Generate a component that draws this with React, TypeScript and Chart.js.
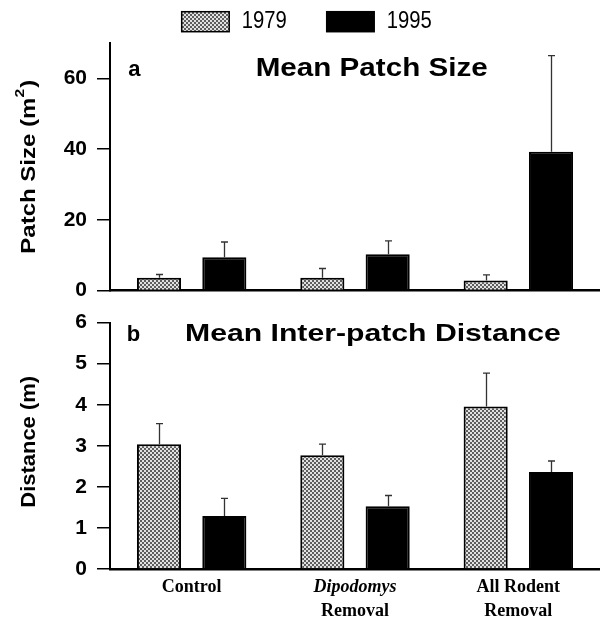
import React, { useEffect, useRef } from "react";
import { Chart, registerables } from "chart.js";

Chart.register(...registerables);

// ---------- data ----------
const categories = ["Control", "Dipodomys Removal", "All Rodent Removal"];
const categoryLines = [["Control"], ["Dipodomys", "Removal"], ["All Rodent", "Removal"]];
const categoryItalic = [[false], [true, false], [false, false]];
const seriesNames = ["1979", "1995"];

const patchSize1979 = [3.6, 3.6, 2.8];
const patchSize1979Err = [0.9, 2.6, 1.6];
const patchSize1995 = [9.4, 10.2, 39.2];
const patchSize1995Err = [4.3, 3.8, 27.2];

const distance1979 = [3.04, 2.77, 3.96];
const distance1979Err = [0.5, 0.27, 0.81];
const distance1995 = [1.29, 1.53, 2.36];
const distance1995Err = [0.43, 0.26, 0.27];

const patchAxis = { min: 0, max: 70, step: 20 };
const distanceAxis = { min: 0, max: 6, step: 1 };

const panelLetters = ["a", "b"];
const panelTitles = ["Mean Patch Size", "Mean Inter-patch Distance"];
const yTitles = [
  [{ text: "Patch Size (m" }, { text: "2", sup: true }, { text: ")" }],
  [{ text: "Distance (m)" }],
];

const SANS = "'Liberation Sans', Arial, Helvetica, sans-serif";
const SERIF = "'Liberation Serif', 'Times New Roman', serif";

function makePattern(): CanvasPattern | string {
  const c = document.createElement("canvas");
  c.width = 4;
  c.height = 4;
  const g = c.getContext("2d");
  if (!g) return "#999";
  g.fillStyle = "#e2e2e2";
  g.fillRect(0, 0, 4, 4);
  g.fillStyle = "#5e5e5e";
  g.fillRect(0, 0, 2, 2);
  g.fillRect(2, 2, 2, 2);
  const p = g.createPattern(c, "repeat");
  return p || "#999";
}

function drawStretched(ctx: CanvasRenderingContext2D, text: string, x: number, y: number, font: string, targetWidth?: number) {
  ctx.save();
  ctx.font = font;
  ctx.fillStyle = "#000";
  ctx.textAlign = "left";
  ctx.textBaseline = "alphabetic";
  const w = ctx.measureText(text).width;
  ctx.translate(x, y);
  if (targetWidth) ctx.scale(targetWidth / w, 1);
  ctx.fillText(text, 0, 0);
  ctx.restore();
}

function drawYTitle(ctx: CanvasRenderingContext2D, parts: any[], bx: number, cy: number, length: number) {
  const mainFont = `bold 20px ${SANS}`;
  const supFont = `bold 13px ${SANS}`;
  ctx.save();
  ctx.fillStyle = "#000";
  ctx.textBaseline = "alphabetic";
  ctx.textAlign = "left";
  let total = 0;
  const widths = parts.map((p) => {
    ctx.font = p.sup ? supFont : mainFont;
    const w = ctx.measureText(p.text).width + (p.sup ? 1 : 0);
    total += w;
    return w;
  });
  ctx.translate(bx, cy);
  ctx.rotate(-Math.PI / 2);
  ctx.scale(length / total, 1);
  let x = -total / 2;
  parts.forEach((p, i) => {
    ctx.font = p.sup ? supFont : mainFont;
    ctx.fillText(p.text, x, p.sup ? -11 : 0);
    x += widths[i];
  });
  ctx.restore();
}

const decorPlugin = {
  id: "panelDecor",
  afterDatasetsDraw(chart: any) {
    const ctx: CanvasRenderingContext2D = chart.ctx;
    const yScale = chart.scales.y;
    chart.data.datasets.forEach((ds: any, di: number) => {
      const meta = chart.getDatasetMeta(di);
      meta.data.forEach((bar: any, i: number) => {
        const top = yScale.getPixelForValue(ds.data[i] + ds.errors[i]);
        const x = Math.round(bar.x) + 0.5;
        ctx.save();
        ctx.strokeStyle = "#333";
        ctx.lineWidth = 1.3;
        ctx.beginPath();
        ctx.moveTo(x, bar.y);
        ctx.lineTo(x, top);
        ctx.moveTo(x - 3.5, top);
        ctx.lineTo(x + 3.5, top);
        ctx.stroke();
        ctx.restore();
      });
    });
  },
  afterDraw(chart: any) {
    const o = chart.options.plugins.panelDecor;
    const ctx: CanvasRenderingContext2D = chart.ctx;
    const area = chart.chartArea;
    // panel letter and title
    drawStretched(ctx, o.letter, area.left + o.letterDx, area.top + o.letterDy, `bold 22px ${SANS}`);
    drawStretched(ctx, o.title, area.left + o.titleDx, area.top + o.titleDy, `bold ${o.titleSize}px ${SANS}`, o.titleWidth);
    // y axis title
    drawYTitle(ctx, o.yTitle, 35, (area.top + area.bottom) / 2 + o.yTitleShift, o.yTitleLength);
    // legend
    if (o.legend) {
      const swX = [181.7, 326.7];
      const txX = [241.7, 386.7];
      chart.data.datasets.forEach((ds: any, i: number) => {
        ctx.save();
        ctx.fillStyle = ds.backgroundColor;
        ctx.fillRect(swX[i], 11.7, 47.5, 20);
        ctx.strokeStyle = "#000";
        ctx.lineWidth = 1.5;
        ctx.strokeRect(swX[i], 11.7, 47.5, 20);
        ctx.restore();
        drawStretched(ctx, ds.label, txX[i], 28.3, `24px ${SANS}`, 45);
      });
    }
    // category labels
    if (o.xLabels) {
      const xs = chart.scales.x;
      categoryLines.forEach((lines, i) => {
        const cx = xs.getPixelForValue(i);
        lines.forEach((ln, j) => {
          ctx.save();
          ctx.font = `${categoryItalic[i][j] ? "italic " : ""}bold 18px ${SERIF}`;
          ctx.fillStyle = "#000";
          ctx.textAlign = "center";
          ctx.textBaseline = "alphabetic";
          ctx.fillText(ln, cx, area.bottom + 22.5 + j * 24.5);
          ctx.restore();
        });
      });
    }
  },
};

function makeConfig(p: any) {
  return {
    type: "bar",
    data: {
      labels: categories,
      datasets: [
        {
          label: seriesNames[0],
          data: p.v1,
          errors: p.e1,
          backgroundColor: p.pattern,
          borderColor: "#000",
          borderWidth: 2,
          categoryPercentage: 0.8,
          barPercentage: 0.675,
        },
        {
          label: seriesNames[1],
          data: p.v2,
          errors: p.e2,
          backgroundColor: "#000",
          borderColor: "#000",
          borderWidth: 2,
          categoryPercentage: 0.8,
          barPercentage: 0.675,
        },
      ],
    },
    options: {
      responsive: false,
      animation: false,
      layout: { padding: { top: p.padTop, left: 0, right: 0, bottom: 0 } },
      plugins: {
        legend: { display: false },
        tooltip: { enabled: false },
        panelDecor: p.decor,
      },
      scales: {
        x: {
          grid: { display: false, drawTicks: false },
          ticks: { display: false },
          border: { display: true, color: "#000", width: 2.5 },
          afterFit: (s: any) => {
            s.height = p.xHeight;
          },
        },
        y: {
          min: p.axis.min,
          max: p.axis.max,
          ticks: {
            stepSize: p.axis.step,
            includeBounds: false,
            color: "#000",
            padding: 10,
            font: { family: SANS, size: 21, weight: "bold" },
          },
          grid: { display: true, drawOnChartArea: false, drawTicks: true, tickLength: 13, color: "#000", lineWidth: 1.5 },
          border: { display: true, color: "#000", width: 2 },
          afterFit: (s: any) => {
            s.width = 110;
          },
        },
      },
    },
    plugins: [decorPlugin],
  };
}

export default function App() {
  const ref1 = useRef<HTMLCanvasElement>(null);
  const ref2 = useRef<HTMLCanvasElement>(null);

  useEffect(() => {
    document.body.style.margin = "0";
    const pattern = makePattern();
    const c1 = new Chart(
      ref1.current as HTMLCanvasElement,
      makeConfig({
        v1: patchSize1979,
        e1: patchSize1979Err,
        v2: patchSize1995,
        e2: patchSize1995Err,
        pattern,
        axis: patchAxis,
        padTop: 43,
        xHeight: 10,
        decor: {
          letter: panelLetters[0],
          letterDx: 18.3,
          letterDy: 33,
          title: panelTitles[0],
          titleDx: 145.7,
          titleDy: 33,
          titleSize: 26,
          titleWidth: 232,
          yTitle: yTitles[0],
          yTitleShift: 0,
          yTitleLength: 174,
          legend: true,
          xLabels: false,
        },
      }) as any
    );
    const c2 = new Chart(
      ref2.current as HTMLCanvasElement,
      makeConfig({
        v1: distance1979,
        e1: distance1979Err,
        v2: distance1995,
        e2: distance1995Err,
        pattern,
        axis: distanceAxis,
        padTop: 22,
        xHeight: 49,
        decor: {
          letter: panelLetters[1],
          letterDx: 16.7,
          letterDy: 18.5,
          title: panelTitles[1],
          titleDx: 75,
          titleDy: 18.7,
          titleSize: 24,
          titleWidth: 375.7,
          yTitle: yTitles[1],
          yTitleShift: -4,
          yTitleLength: 131.7,
          legend: false,
          xLabels: true,
        },
      }) as any
    );
    return () => {
      c1.destroy();
      c2.destroy();
    };
  }, []);

  return (
    <div style={{ position: "relative", width: 600, height: 618, background: "#fff" }}>
      <canvas ref={ref1} width={600} height={313} style={{ position: "absolute", left: 0, top: 0, display: "block" }} />
      <canvas ref={ref2} width={600} height={318} style={{ position: "absolute", left: 0, top: 300, display: "block" }} />
    </div>
  );
}
